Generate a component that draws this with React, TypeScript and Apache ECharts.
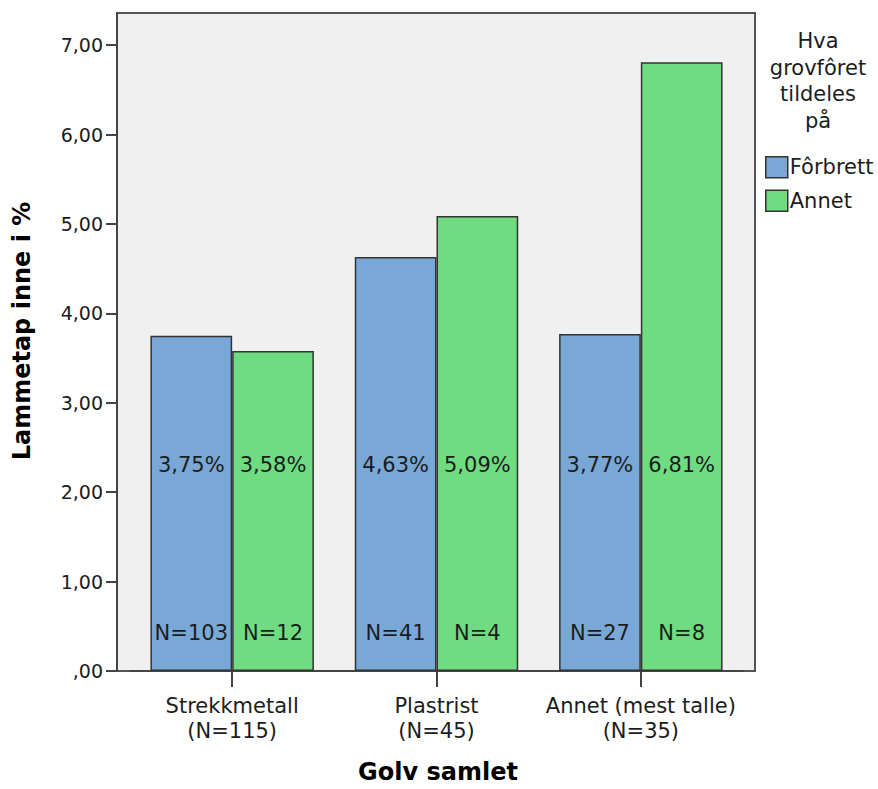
import React, { useEffect, useRef } from "react";
import * as echarts from "echarts";

// Floor types (x categories) and group sizes
const categories = ["Strekkmetall", "Plastrist", "Annet (mest talle)"];
const categoryN = [115, 45, 35];

// Lamb loss in % per feeding place
const forbrettValues = [3.75, 4.63, 3.77];
const annetValues = [3.58, 5.09, 6.81];
const forbrettN = [103, 41, 27];
const annetN = [12, 4, 8];

const seriesNames = ["Fôrbrett", "Annet"];
const legendTitle = "Hva\ngrovfôret\ntildeles\npå";
const yTitle = "Lammetap inne i %";
const xTitle = "Golv samlet";

const FONT = "DejaVu Sans";
const comma = (v: number) => v.toFixed(2).replace(".", ",");

export default function App() {
  const ref = useRef<HTMLDivElement>(null);

  useEffect(() => {
    if (!ref.current) return;
    const chart = echarts.init(ref.current, null, { renderer: "svg" });

    const barLabel = (ns: number[]) => ({
      show: true,
      position: "insideBottom" as const,
      distance: 26,
      formatter: (p: any) =>
        `{p|${comma(p.value)}%}\n{s| }\n{n|N=${ns[p.dataIndex]}}`,
      rich: {
        p: { fontFamily: FONT, fontSize: 21, lineHeight: 24, color: "#1c1c1c" },
        s: { fontSize: 10, lineHeight: 144 },
        n: { fontFamily: FONT, fontSize: 21, lineHeight: 24, color: "#1c1c1c" },
      },
    });

    chart.setOption({
      animation: false,
      backgroundColor: "#ffffff",
      grid: [
        {
          // plot frame
          left: 117,
          right: 123,
          top: 13,
          bottom: 118,
          show: true,
          backgroundColor: "#f0f0f0",
          borderColor: "#555555",
          borderWidth: 2,
        },
        {
          left: 130,
          width: 613,
          top: 13,
          bottom: 118,
        },
      ],
      legend: {
        orient: "vertical",
        left: 760,
        top: 151,
        icon: "rect",
        itemWidth: 22,
        itemHeight: 21,
        itemGap: 11,
        data: seriesNames,
        textStyle: { fontFamily: FONT, fontSize: 21, color: "#1c1c1c", padding: [0, 0, 0, -3] },
        itemStyle: { borderColor: "#333333", borderWidth: 1.5 },
      },
      xAxis: [
        { gridIndex: 0, type: "value", show: false, min: 0, max: 1 },
        {
          gridIndex: 1,
          type: "category",
          data: categories,
          boundaryGap: true,
          axisLine: { show: true, lineStyle: { color: "#444444", width: 2 } },
          axisTick: {
            show: true,
            alignWithLabel: true,
            length: 16,
            lineStyle: { color: "#444444", width: 2 },
          },
          axisLabel: {
            interval: 0,
            margin: 22,
            fontFamily: FONT,
            fontSize: 21,
            lineHeight: 25,
            color: "#1c1c1c",
            formatter: (v: string, i: number) => `${v}\n(N=${categoryN[i]})`,
          },
        },
      ],
      yAxis: [
        { gridIndex: 0, type: "value", show: false, min: 0, max: 1 },
        {
          gridIndex: 1,
          type: "value",
          min: 0,
          max: 7.36,
          interval: 1,
          offset: 13,
          axisLine: { show: true, lineStyle: { color: "#444444", width: 2 } },
          axisTick: { show: true, length: 11, lineStyle: { color: "#444444", width: 2 } },
          splitLine: { show: false },
          axisLabel: {
            margin: 14,
            fontFamily: FONT,
            fontSize: 19,
            color: "#1c1c1c",
            showMaxLabel: false,
            formatter: (v: number) => (v === 0 ? ",00" : comma(v)),
          },
        },
      ],
      series: [
        {
          name: seriesNames[0],
          type: "bar",
          xAxisIndex: 1,
          yAxisIndex: 1,
          data: forbrettValues,
          barGap: "0%",
          barCategoryGap: "20%",
          itemStyle: { color: "#79a8d7", borderColor: "#333333", borderWidth: 1.5 },
          label: barLabel(forbrettN),
        },
        {
          name: seriesNames[1],
          type: "bar",
          xAxisIndex: 1,
          yAxisIndex: 1,
          data: annetValues,
          barGap: "0%",
          barCategoryGap: "20%",
          itemStyle: { color: "#6fdc82", borderColor: "#333333", borderWidth: 1.5 },
          label: barLabel(annetN),
        },
      ],
      graphic: [
        {
          type: "text",
          x: 818,
          y: 28,
          style: {
            text: legendTitle,
            align: "center",
            verticalAlign: "top",
            fontFamily: FONT,
            fontSize: 21,
            lineHeight: 26.5,
            fill: "#1c1c1c",
          },
        },
        {
          type: "text",
          x: 22,
          y: 331,
          rotation: Math.PI / 2,
          style: {
            text: yTitle,
            align: "center",
            verticalAlign: "middle",
            fontFamily: FONT,
            fontSize: 24,
            fontWeight: "bold",
            fill: "#000000",
          },
        },
        {
          type: "text",
          x: 438,
          y: 772,
          style: {
            text: xTitle,
            align: "center",
            verticalAlign: "middle",
            fontFamily: FONT,
            fontSize: 24,
            fontWeight: "bold",
            fill: "#000000",
          },
        },
      ],
    });

    return () => chart.dispose();
  }, []);

  return (
    <div
      ref={ref}
      style={{ position: "fixed", left: 0, top: 0, width: 878, height: 789 }}
    />
  );
}
